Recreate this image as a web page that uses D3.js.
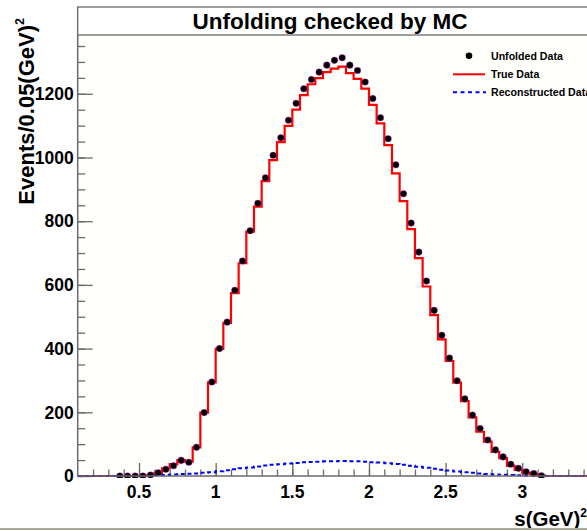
<!DOCTYPE html>
<html>
<head>
<meta charset="utf-8">
<script src="https://cdn.jsdelivr.net/npm/d3@7"></script>
<style>
  html, body { margin: 0; padding: 0; background: #ffffff; }
  svg { display: block; }
  text { font-family: "Liberation Sans", Arial, Helvetica, sans-serif; font-weight: bold; fill: #000; }
</style>
</head>
<body>
<svg id="chart" width="587" height="531"></svg>
<script>
// ---------------- DATA ----------------
const binCenters = [0.375, 0.425, 0.475, 0.525, 0.575, 0.625, 0.675, 0.725, 0.775, 0.825,
  0.875, 0.925, 0.975, 1.025, 1.075, 1.125, 1.175, 1.225, 1.275, 1.325,
  1.375, 1.425, 1.475, 1.525, 1.575, 1.625, 1.675, 1.725, 1.775, 1.825,
  1.875, 1.925, 1.975, 2.025, 2.075, 2.125, 2.175, 2.225, 2.275, 2.325,
  2.375, 2.425, 2.475, 2.525, 2.575, 2.625, 2.675, 2.725, 2.775, 2.825,
  2.875, 2.925, 2.975, 3.025, 3.075, 3.125];
const binWidth = 0.05;

const unfoldedData = [0, 0, 0, 0, 3, 10, 21, 32, 49, 43,
  90, 199, 295, 400, 483, 583, 675, 770, 856, 936,
  1007, 1062, 1117, 1170, 1216, 1245, 1268, 1290, 1305, 1313,
  1290, 1273, 1237, 1185, 1125, 1059, 977, 886, 794, 703,
  612, 520, 442, 370, 299, 242, 191, 149, 113, 82,
  60, 37, 24, 13, 8, 1];

const trueData = [0, 0, 0, 0, 3, 10, 24, 37, 50, 45,
  90, 199, 294, 399, 481, 574, 668, 767, 846, 926,
  992, 1048, 1099, 1150, 1196, 1230, 1249, 1268, 1279, 1285,
  1265, 1247, 1216, 1165, 1107, 1039, 950, 863, 775, 684,
  595, 505, 429, 361, 293, 235, 184, 139, 108, 76,
  56, 32, 19, 10, 6, 1];

const reconstructedData = [0, 0, 0, 0, 1, 2, 3, 5, 6, 7,
  8, 10, 12, 15, 18, 21, 24, 27, 30, 33,
  35, 37, 39, 41, 43, 44, 45, 46, 46, 47,
  46, 46, 45, 43, 42, 40, 38, 35, 32, 29,
  26, 23, 20, 17, 14, 12, 10, 8, 6, 5,
  4, 3, 2, 1, 1, 0];

const xMajorTicks = [0.5, 1, 1.5, 2, 2.5, 3];
const xTickLabels = ["0.5", "1", "1.5", "2", "2.5", "3"];
const yMajorTicks = [0, 200, 400, 600, 800, 1000, 1200];
const yTickLabels = ["0", "200", "400", "600", "800", "1000", "1200"];

const titleText = "Unfolding checked by MC";
const legendLabels = ["Unfolded Data", "True Data", "Reconstructed Data"];

// ---------------- LAYOUT ----------------
const svg = d3.select("#chart");
const xDomain = [0.1, 3.5];
const yDomain = [0, 1384.6];
const plotLeft = 77.7, plotRight = 77.7 + 3.4 * 153.3;
const plotTop = 35, plotBottom = 476;

const x = d3.scaleLinear().domain(xDomain).range([plotLeft, plotRight]);
const y = d3.scaleLinear().domain(yDomain).range([plotBottom, plotTop]);

const axisColor = "#6a6a6a";

// plot area background
svg.append("rect")
  .attr("x", plotLeft).attr("y", plotTop)
  .attr("width", plotRight - plotLeft).attr("height", plotBottom - plotTop)
  .attr("fill", "#fffffc");

// clip
svg.append("defs").append("clipPath").attr("id", "plotClip")
  .append("rect")
  .attr("x", plotLeft).attr("y", plotTop - 2)
  .attr("width", plotRight - plotLeft).attr("height", plotBottom - plotTop + 4);

// ---------------- AXES ----------------
const yMinor = d3.range(0, 1384, 50);
const yAxisMinor = d3.axisRight(y).tickValues(yMinor).tickSize(7.5).tickFormat("");
const yAxisMajor = d3.axisRight(y).tickValues(yMajorTicks).tickSize(15).tickFormat("");
[yAxisMinor, yAxisMajor].forEach(ax => {
  const g = svg.append("g").attr("transform", `translate(${plotLeft},0)`).call(ax);
  g.select(".domain").remove();
  g.selectAll("line").attr("stroke", axisColor).attr("stroke-width", 1.3);
});
svg.append("g").selectAll("text").data(yMajorTicks).join("text")
  .attr("x", plotLeft - 4)
  .attr("y", d => y(d) + 6.3)
  .attr("text-anchor", "end")
  .attr("font-size", "17.5px")
  .text((d, i) => yTickLabels[i]);

const xMinor = d3.range(2, 35).map(k => k / 10);
const xAxisMinor = d3.axisTop(x).tickValues(xMinor).tickSize(6.5).tickFormat("");
const xAxisMajor = d3.axisTop(x).tickValues(xMajorTicks).tickSize(13).tickFormat("");
[xAxisMinor, xAxisMajor].forEach(ax => {
  const g = svg.append("g").attr("transform", `translate(0,${plotBottom})`).call(ax);
  g.select(".domain").remove();
  g.selectAll("line").attr("stroke", axisColor).attr("stroke-width", 1.3);
});
svg.append("g").selectAll("text").data(xMajorTicks).join("text")
  .attr("x", d => x(d))
  .attr("y", plotBottom + 22)
  .attr("text-anchor", "middle")
  .attr("font-size", "17.5px")
  .text((d, i) => xTickLabels[i]);

// ---------------- HISTOGRAMS ----------------
function stepPoints(values) {
  const pts = [{ x: xDomain[0], v: 0 }];
  binCenters.forEach((c, i) => pts.push({ x: c - binWidth / 2, v: values[i] }));
  pts.push({ x: binCenters[binCenters.length - 1] + binWidth / 2, v: 0 });
  pts.push({ x: xDomain[1], v: 0 });
  return pts;
}
const stepLine = d3.line().x(d => x(d.x)).y(d => y(d.v)).curve(d3.curveStepAfter);

const dataLayer = svg.append("g").attr("clip-path", "url(#plotClip)");

dataLayer.append("path")
  .attr("d", stepLine(stepPoints(trueData)))
  .attr("fill", "none")
  .attr("stroke", "#ff0000")
  .attr("stroke-width", 2.2);

// axis lines (frame left + bottom)
svg.append("line").attr("x1", plotLeft).attr("x2", plotLeft)
  .attr("y1", 7).attr("y2", plotBottom)
  .attr("stroke", axisColor).attr("stroke-width", 1.5);
svg.append("line").attr("x1", plotLeft).attr("x2", 587)
  .attr("y1", plotBottom).attr("y2", plotBottom)
  .attr("stroke", axisColor).attr("stroke-width", 1.5);

dataLayer.append("path")
  .attr("d", stepLine(stepPoints(reconstructedData)))
  .attr("fill", "none")
  .attr("stroke", "#0000ff")
  .attr("stroke-width", 2)
  .attr("stroke-dasharray", "4,3");

// points
dataLayer.append("g").selectAll("circle").data(binCenters).join("circle")
  .attr("cx", d => x(d))
  .attr("cy", (d, i) => y(unfoldedData[i]))
  .attr("r", 3.3)
  .attr("fill", "#000")
  .attr("stroke", "#d020d0")
  .attr("stroke-width", 0.4);

// ---------------- TITLE BOX ----------------
svg.append("rect")
  .attr("x", plotLeft).attr("y", 7)
  .attr("width", 600 - plotLeft).attr("height", 28)
  .attr("fill", "#ffffff")
  .attr("stroke", axisColor).attr("stroke-width", 1.3);
svg.append("text")
  .attr("x", 330).attr("y", 29)
  .attr("text-anchor", "middle")
  .attr("font-size", "22.5px")
  .text(titleText);

// ---------------- AXIS TITLES ----------------
const yTitle = svg.append("text")
  .attr("transform", "translate(34,18) rotate(-90)")
  .attr("text-anchor", "end")
  .attr("font-size", "22px");
yTitle.append("tspan").text("Events/0.05(GeV)");
yTitle.append("tspan").attr("dy", -10).attr("font-size", "12.5px").text("2");

const xTitle = svg.append("text")
  .attr("x", 587).attr("y", 526)
  .attr("text-anchor", "end")
  .attr("font-size", "20.5px");
xTitle.append("tspan").text("s(GeV)");
xTitle.append("tspan").attr("dy", -9).attr("font-size", "12px").text("2");

// bottom canvas border
svg.append("line").attr("x1", 0).attr("x2", 587)
  .attr("y1", 529).attr("y2", 529)
  .attr("stroke", "#aaa99c").attr("stroke-width", 2);

// ---------------- LEGEND ----------------
const legend = svg.append("g");
const legY = [55.7, 74.3, 92.3];
legend.append("circle").attr("cx", 469).attr("cy", legY[0]).attr("r", 3.3).attr("fill", "#000");
legend.append("line").attr("x1", 453).attr("x2", 485).attr("y1", legY[1]).attr("y2", legY[1])
  .attr("stroke", "#ff0000").attr("stroke-width", 2);
legend.append("line").attr("x1", 453).attr("x2", 486).attr("y1", legY[2]).attr("y2", legY[2])
  .attr("stroke", "#0000ff").attr("stroke-width", 2).attr("stroke-dasharray", "4,3.5");
legend.selectAll("text.leg").data(legendLabels).join("text")
  .attr("class", "leg")
  .attr("x", 491)
  .attr("y", (d, i) => legY[i] + 4)
  .attr("font-size", "10.6px")
  .text(d => d);
</script>
</body>
</html>
